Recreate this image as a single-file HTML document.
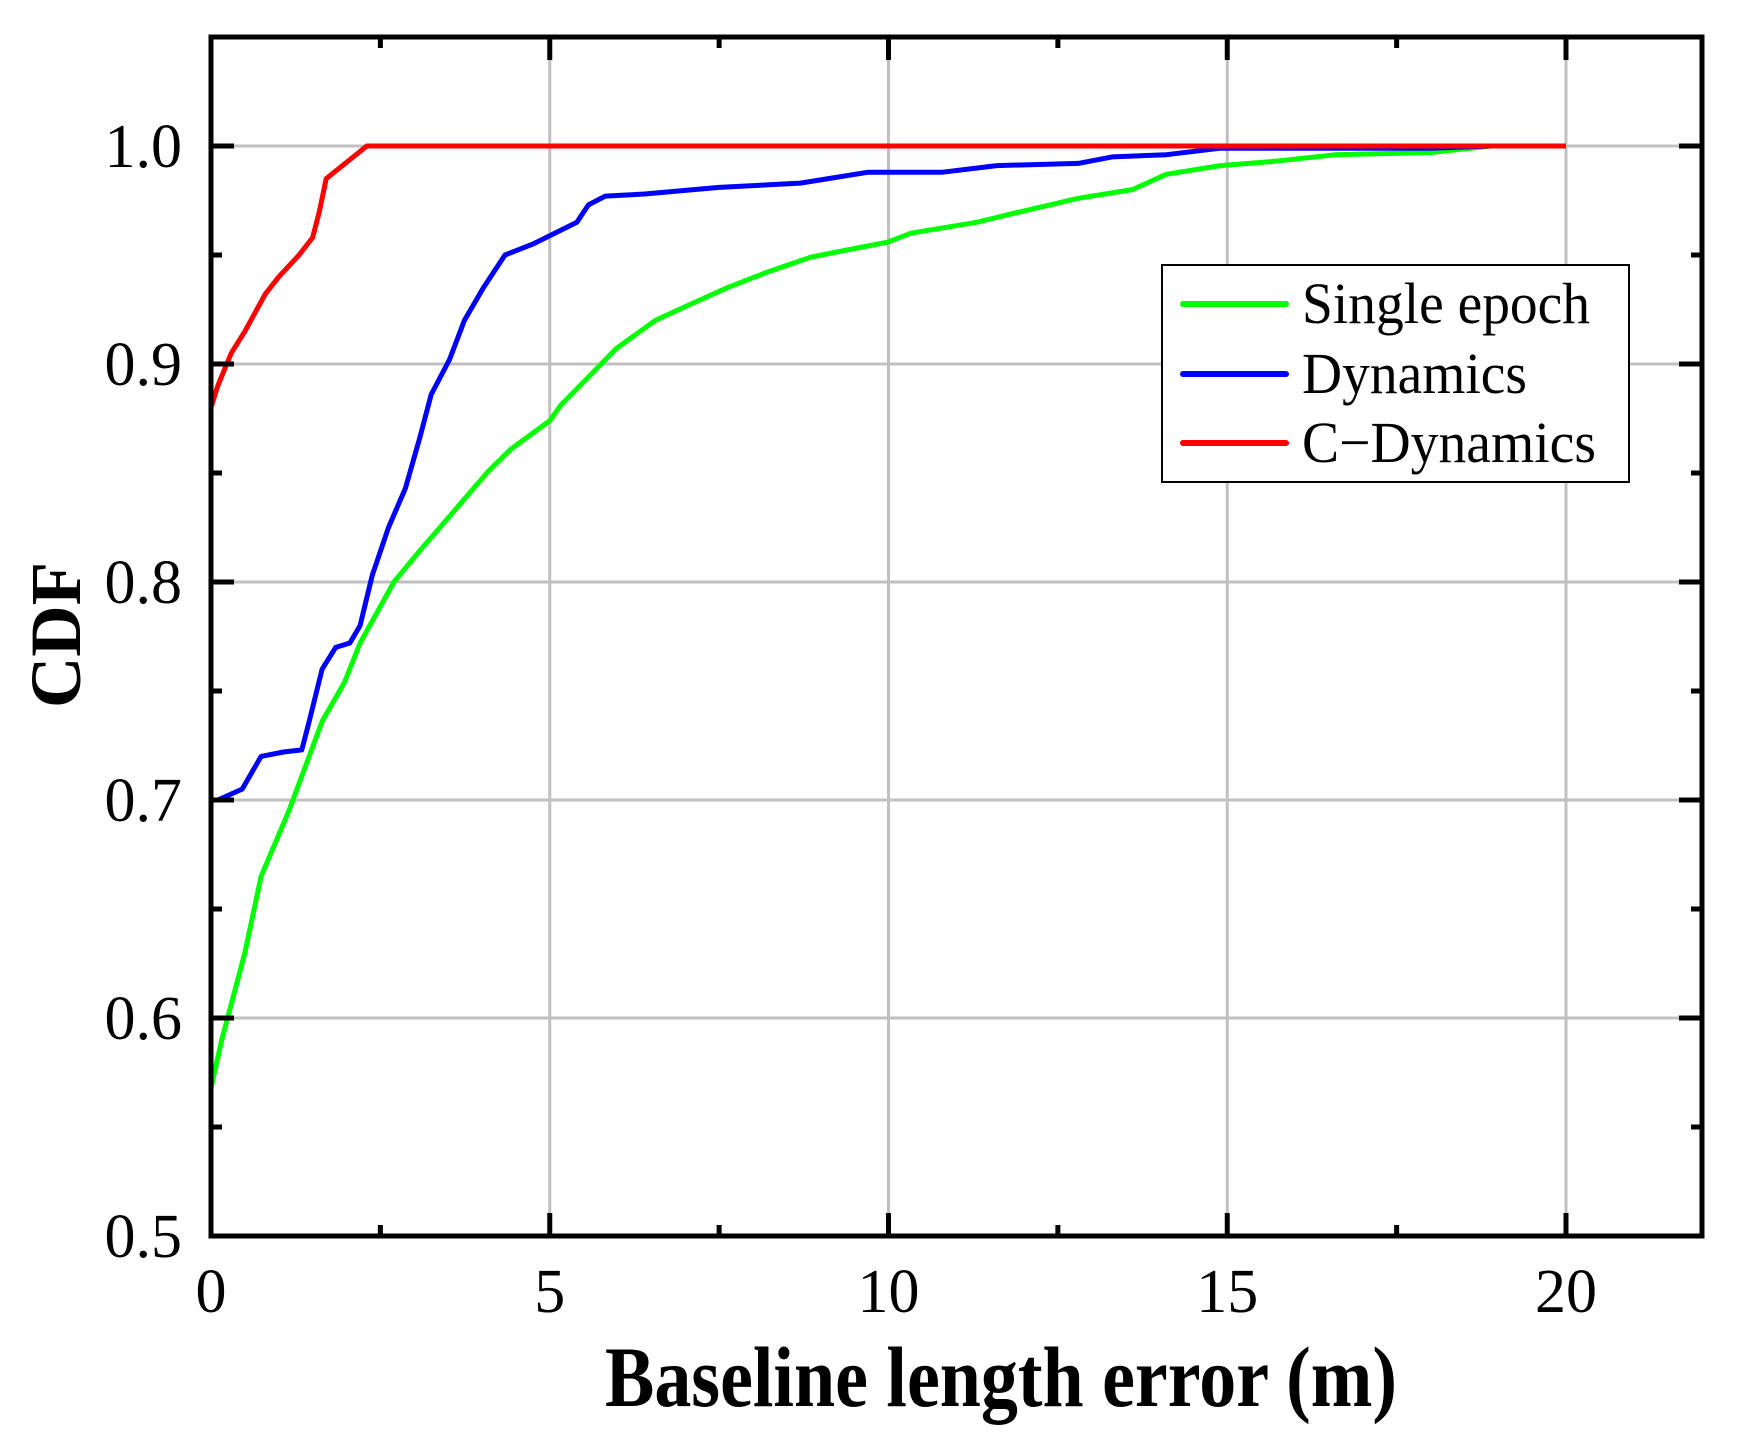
<!DOCTYPE html>
<html><head><meta charset="utf-8"><style>html,body{margin:0;padding:0;background:#fff}svg{display:block}</style></head>
<body>
<svg id="s" width="1739" height="1451" xmlns="http://www.w3.org/2000/svg" font-family="Liberation Serif, serif">
<rect width="1739" height="1451" fill="#fff"/>
<g id="grid" stroke="#c0c0c0" stroke-width="3"></g>
<g id="curves" fill="none" stroke-width="5" stroke-linejoin="round"></g>
<rect x="211" y="37" width="1491" height="1199" fill="none" stroke="#000" stroke-width="5"/>
<g id="ticks" stroke="#000" stroke-width="5"></g>
<g id="labels" font-size="62" fill="#000"></g>
<rect x="1162" y="265" width="467" height="217" fill="#fff" stroke="#000" stroke-width="2"/>
<g stroke-width="6" stroke-linecap="round">
<line x1="1183" y1="304" x2="1286" y2="304" stroke="#00ff00"/>
<line x1="1183" y1="374" x2="1286" y2="374" stroke="#0000ff"/>
<line x1="1183" y1="443" x2="1286" y2="443" stroke="#ff0000"/>
</g>
<g font-size="58" fill="#000">
<text x="1302" y="323" textLength="288" lengthAdjust="spacingAndGlyphs">Single epoch</text>
<text x="1302" y="393" textLength="225" lengthAdjust="spacingAndGlyphs">Dynamics</text>
<text x="1302" y="462" textLength="294" lengthAdjust="spacingAndGlyphs">C−Dynamics</text>
</g>
<text x="605" y="1406" font-size="86" font-weight="bold" textLength="792" lengthAdjust="spacingAndGlyphs">Baseline length error (m)</text>
<text transform="translate(80,708) rotate(-90)" font-size="72" font-weight="bold" textLength="146" lengthAdjust="spacingAndGlyphs">CDF</text>
</svg>
<script>
const NS="http://www.w3.org/2000/svg";
const X=x=>211+67.75*x, Y=y=>1236-(y-0.5)*2180;
function el(p,t,a){const e=document.createElementNS(NS,t);for(const k in a)e.setAttribute(k,a[k]);p.appendChild(e);return e;}
const g=document.getElementById('grid'),tk=document.getElementById('ticks'),lb=document.getElementById('labels');
[5,10,15,20].forEach(v=>el(g,'line',{x1:X(v),x2:X(v),y1:37,y2:1236}));
[0.6,0.7,0.8,0.9,1.0].forEach(v=>el(g,'line',{x1:211,x2:1702,y1:Y(v),y2:Y(v)}));
for(let v=0;v<=22;v+=2.5){const L=(v%5===0)?23:11;el(tk,'line',{x1:X(v),x2:X(v),y1:1236,y2:1236-L});el(tk,'line',{x1:X(v),x2:X(v),y1:37,y2:37+L});}
for(let i=0;i<=11;i++){const v=0.5+i*0.05;const L=(i%2===0)?23:11;el(tk,'line',{x1:211,x2:211+L,y1:Y(v),y2:Y(v)});el(tk,'line',{x1:1702,x2:1702-L,y1:Y(v),y2:Y(v)});}
[0,5,10,15,20].forEach(v=>{const t=el(lb,'text',{x:X(v),y:1312,'text-anchor':'middle'});t.textContent=String(v);});
[0.5,0.6,0.7,0.8,0.9,1.0].forEach(v=>{const t=el(lb,'text',{x:182,y:Y(v)+21,'text-anchor':'end'});t.textContent=v.toFixed(1);});
const green=[[0,0.5],[0,0.568],[0.16,0.59],[0.33,0.61],[0.5,0.63],[0.74,0.665],[1.15,0.695],[1.64,0.736],[1.97,0.754],[2.2,0.772],[2.7,0.8],[3.1,0.815],[3.6,0.833],[4.1,0.851],[4.43,0.861],[5.0,0.874],[5.16,0.881],[5.57,0.894],[5.98,0.907],[6.56,0.92],[7.05,0.927],[7.62,0.935],[8.2,0.942],[8.85,0.949],[9.5,0.953],[10.0,0.956],[10.33,0.96],[11.3,0.965],[11.97,0.97],[12.8,0.976],[13.6,0.98],[14.1,0.987],[14.9,0.991],[15.7,0.993],[16.6,0.996],[18.0,0.997],[18.9,1.0],[20,1.0]];
const blue=[[0,0.5],[0,0.70],[0.1,0.70],[0.46,0.705],[0.74,0.72],[1.07,0.722],[1.34,0.723],[1.44,0.735],[1.64,0.76],[1.84,0.77],[2.05,0.772],[2.2,0.78],[2.38,0.803],[2.62,0.825],[2.87,0.843],[3.08,0.866],[3.25,0.886],[3.52,0.902],[3.74,0.92],[4.02,0.935],[4.34,0.95],[4.75,0.955],[5.4,0.965],[5.57,0.973],[5.82,0.977],[6.4,0.978],[7.5,0.981],[8.7,0.983],[9.7,0.988],[10.8,0.988],[11.6,0.991],[12.8,0.992],[13.3,0.995],[14.1,0.996],[14.9,0.999],[18,0.999],[18.9,1.0],[20,1.0]];
const red=[[0,0.5],[0,0.88],[0.1,0.89],[0.3,0.905],[0.5,0.915],[0.8,0.932],[1.0,0.94],[1.3,0.95],[1.5,0.958],[1.6,0.97],[1.7,0.985],[1.9,0.99],[2.1,0.995],[2.3,1.0],[20,1.0]];
const c=document.getElementById('curves');
[[green,'#00ff00'],[blue,'#0000ff'],[red,'#ff0000']].forEach(([d,col])=>{el(c,'path',{d:'M'+d.map(p=>X(p[0]).toFixed(1)+','+Y(p[1]).toFixed(1)).join(' L'),stroke:col});});
</script>
</body></html>
